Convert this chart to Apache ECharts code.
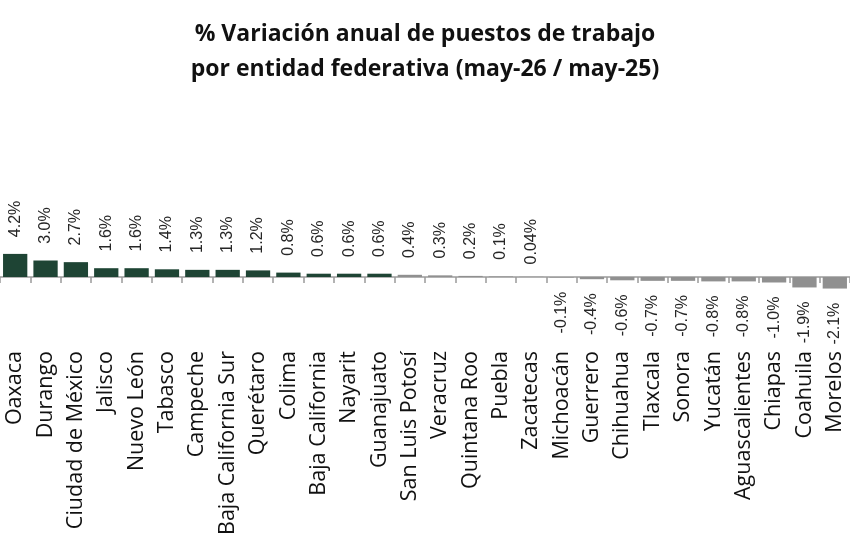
<!DOCTYPE html>
<html>
<head>
<meta charset="utf-8">
<script src="https://cdn.jsdelivr.net/npm/echarts@6/dist/echarts.min.js"></script>
<style>
  html, body { margin: 0; padding: 0; background: #fff; }
  #main { width: 850px; height: 550px; }
</style>
</head>
<body>
<div id="main"></div>
<script>
// datos de la gráfica
var estados = ['Oaxaca', 'Durango', 'Ciudad de México', 'Jalisco', 'Nuevo León', 'Tabasco',
  'Campeche', 'Baja California Sur', 'Querétaro', 'Colima', 'Baja California', 'Nayarit',
  'Guanajuato', 'San Luis Potosí', 'Veracruz', 'Quintana Roo', 'Puebla', 'Zacatecas',
  'Michoacán', 'Guerrero', 'Chihuahua', 'Tlaxcala', 'Sonora', 'Yucatán', 'Aguascalientes',
  'Chiapas', 'Coahuila', 'Morelos'];
var variacion = [4.2, 3.0, 2.7, 1.6, 1.6, 1.4, 1.3, 1.3, 1.2, 0.8, 0.6, 0.6, 0.6, 0.4, 0.3, 0.2,
  0.1, 0.04, -0.1, -0.4, -0.6, -0.7, -0.7, -0.8, -0.8, -1.0, -1.9, -2.1];

var verde = '#1e4434';
var gris = '#909090';

function fmt(v) {
  var s = Number(v.toFixed(1)) === v ? v.toFixed(1) : v.toFixed(2);
  return s + '%';
}

var myChart = echarts.init(document.getElementById('main'));

var option = {
  backgroundColor: '#fff',
  animation: false,
  title: {
    text: '% Variación anual de puestos de trabajo\npor entidad federativa (may-26 / may-25)',
    left: 'center',
    top: 12,
    textStyle: {
      fontFamily: 'Open Sans',
      fontWeight: 'bold',
      fontSize: 23,
      lineHeight: 35,
      color: '#111'
    }
  },
  grid: { left: -6, right: -7, top: 244, bottom: 251, containLabel: false },
  xAxis: {
    type: 'category',
    data: estados,
    axisLine: { lineStyle: { color: '#9a9a9a', width: 1.5 } },
    axisTick: { show: true, length: 6, lineStyle: { color: '#9a9a9a', width: 1.5 } },
    axisLabel: {
      interval: 0,
      rotate: 90,
      margin: 52,
      fontFamily: 'Open Sans',
      fontSize: 21.5,
      color: '#111'
    }
  },
  yAxis: {
    type: 'value',
    min: -4,
    max: 6,
    show: false,
    splitLine: { show: false }
  },
  series: [{
    type: 'bar',
    barCategoryGap: '20%',
    data: variacion.map(function (v) {
      return {
        value: v,
        itemStyle: { color: v >= 0.5 ? verde : gris },
        label: { position: v >= 0 ? 'top' : 'bottom' }
      };
    }),
    label: {
      show: true,
      rotate: 90,
      distance: 35,
      align: 'center',
      verticalAlign: 'middle',
      fontFamily: 'Liberation Sans',
      fontSize: 16,
      color: '#262626',
      formatter: function (p) { return fmt(p.value); }
    }
  }]
};

myChart.setOption(option);
</script>
</body>
</html>
